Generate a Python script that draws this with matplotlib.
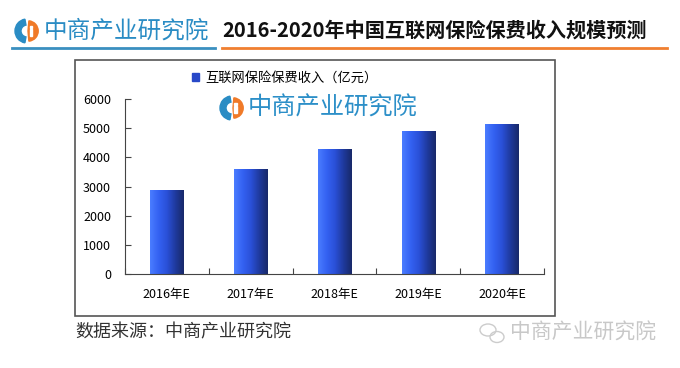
import numpy as np
import matplotlib.pyplot as plt
from matplotlib.patches import Rectangle, Wedge, Ellipse
from matplotlib.colors import LinearSegmentedColormap

plt.rcParams['font.family'] = ['Noto Sans CJK SC', 'DejaVu Sans']

# data
years = ['2016年E', '2017年E', '2018年E', '2019年E', '2020年E']
premium = [2880, 3570, 4260, 4890, 5130]   # 亿元
series_name = '互联网保险保费收入（亿元）'
title = '2016-2020年中国互联网保险保费收入规模预测'
brand = '中商产业研究院'
source = '数据来源：中商产业研究院'

W, H = 680, 368
fig = plt.figure(figsize=(W / 100, H / 100), dpi=100)

def fx(px):
    return px / W

def fy(py):
    return 1 - py / H

# brand icon drawn in inch coordinates so circles stay round
def draw_icon(cx, cy, r):
    t = fig.dpi_scale_trans
    c = (cx / 100, (H - cy) / 100)
    fig.patches.append(Wedge(c, r / 100, 100, 260, width=r * 0.5 / 100,
                             color='#2a8cc4', transform=t, figure=fig))
    fig.patches.append(Wedge((c[0] + 0.01, c[1]), r * 0.85 / 100, -85, 85,
                             color='#f07a28', transform=t, figure=fig))
    fig.patches.append(Rectangle((c[0] + 0.025, c[1] - r * 0.45 / 100), r * 0.2 / 100, r * 0.6 / 100,
                                 color='white', transform=t, figure=fig))
    fig.patches.append(Rectangle((c[0] + 0.025, c[1] + r * 0.25 / 100), r * 0.2 / 100, r * 0.2 / 100,
                                 color='white', transform=t, figure=fig))

# header
draw_icon(27, 31, 12)
fig.text(fx(44), fy(31), brand, color='#2a8cc4', fontsize=17, va='center', ha='left')
fig.add_artist(plt.Line2D([fx(12), fx(215)], [fy(48), fy(48)], color='#3a8fc0', lw=2))
fig.text(fx(222), fy(30), title, color='#111111', fontsize=14.5, fontweight='bold',
         va='center', ha='left')
fig.add_artist(plt.Line2D([fx(222), fx(667)], [fy(48), fy(48)], color='#f07f30', lw=2))

# chart frame
fig.patches.append(Rectangle((fx(75), fy(316)), fx(480), 256 / H, fill=False,
                             edgecolor='#555555', lw=1.2, transform=fig.transFigure, figure=fig))

ax = fig.add_axes([fx(125), fy(274), fx(419), 175 / H])
x = np.arange(len(years))
bars = ax.bar(x, premium, width=0.4, color='#2a4fd8', label=series_name)

# horizontal gradient on each bar
cmap = LinearSegmentedColormap.from_list('bar', ['#4a7cff', '#3462f2', '#2a50d8', '#1f3a9e', '#18296a'])
grad = np.linspace(0, 1, 64).reshape(1, -1)
for b in bars:
    b.set_alpha(0)
    ax.imshow(grad, cmap=cmap, aspect='auto', zorder=2,
              extent=[b.get_x(), b.get_x() + b.get_width(), 0, b.get_height()])

ax.set_xlim(-0.5, len(years) - 0.5)
ax.set_ylim(0, 6000)
ax.set_yticks(np.arange(0, 6001, 1000))
ax.set_xticks(np.arange(-0.5, len(years), 1))
ax.set_xticklabels([])
ax.set_xticks(x, minor=True)
ax.set_xticklabels(years, minor=True, fontsize=9)
ax.tick_params(axis='x', which='minor', length=0, pad=10)
ax.tick_params(axis='x', which='major', direction='in', length=4, color='#444444')
ax.tick_params(axis='y', direction='in', length=4, color='#444444', labelsize=9, pad=10)
for s in ['top', 'right']:
    ax.spines[s].set_visible(False)
for s in ['left', 'bottom']:
    ax.spines[s].set_color('#444444')
ax.patch.set_alpha(0)

fig.legend(handles=[Rectangle((0, 0), 1, 1, color='#2848c8')], labels=[series_name],
           loc='center left', bbox_to_anchor=(fx(180), fy(78)), frameon=False,
           fontsize=9.5, handlelength=0.55, handleheight=0.55, handletextpad=0.5)

# watermark inside the chart
draw_icon(232, 108, 12)
fig.text(fx(248), fy(108), brand, color='#2c8fc8', fontsize=17.5, va='center', ha='left')

# source
fig.text(fx(75), fy(332), source, color='#333333', fontsize=13, va='center', ha='left',
         style='italic')

# wechat watermark
fig.patches.append(Ellipse((fx(488), fy(330)), fx(16), 12 / H, fill=False, ec='#cccccc', lw=1,
                           transform=fig.transFigure, figure=fig))
fig.patches.append(Ellipse((fx(497), fy(337)), fx(14), 11 / H, fill=False, ec='#cccccc', lw=1,
                           transform=fig.transFigure, figure=fig))
fig.text(fx(510), fy(333), brand, color='#c8c8c8', fontsize=15, va='center', ha='left')

fig.savefig('out.png', dpi=100)
